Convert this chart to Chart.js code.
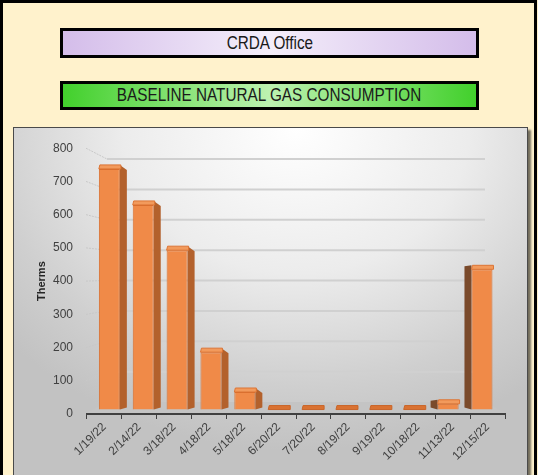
<!DOCTYPE html>
<html>
<head>
<meta charset="utf-8">
<script src="https://cdn.jsdelivr.net/npm/chart.js@4/dist/chart.umd.min.js"></script>
<style>
  html, body { margin: 0; padding: 0; }
  #page { position: relative; width: 538px; height: 475px; background: #FFF2CC; overflow: hidden; }
  #frame { position: absolute; left: 0; top: 0; width: 537px; height: 490px; box-sizing: border-box; border: 3px solid #000; }
  .title { position: absolute; left: 60px; width: 419px; box-sizing: border-box; border: 3px solid #000;
           font-family: "Liberation Sans", Arial, sans-serif; font-size: 18px;
           color: #1a1a1a; text-align: center; }
  .title span { display: inline-block; transform: scaleX(0.85); transform-origin: center; white-space: nowrap; }
  #t1 { top: 28px; height: 30px; line-height: 24px;
        background: linear-gradient(to right, #D4BDEA 0%, #F4EEFA 50%, #D4BDEA 100%); }
  #t2 { top: 81px; height: 29px; line-height: 23px;
        background: linear-gradient(to right, #42D02C 0%, #BDF2B0 50%, #42D02C 100%); }
  #box { position: absolute; left: 13px; top: 127px; width: 515px; height: 360px; box-sizing: border-box;
         border: 1px solid #4a4a4a;
         background: radial-gradient(ellipse 75% 90% at 55% 0%, #ffffff 0%, #ececec 45%, #cfcfcf 80%, #c2c2c2 100%);
         box-shadow: 3px 3px 2px rgba(0,0,0,0.55); }
  #chart { position: absolute; left: -1px; top: -1px; }
</style>
</head>
<body>
<div id="page">
  <div id="frame"></div>
  <div class="title" id="t1"><span>CRDA Office</span></div>
  <div class="title" id="t2"><span>BASELINE NATURAL GAS CONSUMPTION</span></div>
  <div id="box"><canvas id="chart" width="515" height="348"></canvas></div>
</div>
<script>
// Meter read dates and monthly natural gas use (therms)
const readDates = ["1/19/22", "2/14/22", "3/18/22", "4/18/22", "5/18/22", "6/20/22",
                   "7/20/22", "8/19/22", "9/19/22", "10/18/22", "11/13/22", "12/15/22"];
const therms = [755, 642, 500, 180, 55, 0, 0, 0, 0, 0, 18, 440];
const thermTicks = [0, 100, 200, 300, 400, 500, 600, 700, 800];

const FONT = "'Liberation Sans', Arial, sans-serif";
const INK = "#404040";

// Pseudo-3D look: floor, back wall gridlines, and column side/top faces
const DEPTH_X = 20, DEPTH_Y = 12, WALL_SCALE = 0.914;
const columns3d = {
  id: "columns3d",
  beforeDatasetsDraw(chart) {
    const { ctx, chartArea: a } = chart;
    const ys = chart.scales.yLab;
    ctx.save();
    // floor
    ctx.fillStyle = "#c4c4c4";
    ctx.beginPath();
    ctx.moveTo(a.left, a.bottom - 1);
    ctx.lineTo(a.right, a.bottom - 1);
    ctx.lineTo(a.right - DEPTH_X, a.bottom - DEPTH_Y);
    ctx.lineTo(a.left + DEPTH_X, a.bottom - DEPTH_Y);
    ctx.closePath();
    ctx.fill();
    // wall gridlines
    thermTicks.forEach(v => {
      if (v === 0) return;
      const fy = ys.getPixelForValue(v);
      const by = a.bottom - DEPTH_Y + (fy - a.bottom) * WALL_SCALE;
      ctx.strokeStyle = "#c8c8c8";
      ctx.lineWidth = 1;
      ctx.setLineDash([2, 1]);
      ctx.beginPath();
      ctx.moveTo(a.left - 1, fy);
      ctx.lineTo(a.left + DEPTH_X, by);
      ctx.stroke();
      ctx.setLineDash([]);
      ctx.strokeStyle = "#d0d0d0";
      ctx.lineWidth = 2;
      ctx.beginPath();
      ctx.moveTo(a.left + DEPTH_X, by);
      ctx.lineTo(a.right - DEPTH_X, by);
      ctx.stroke();
    });
    ctx.restore();
  },
  afterDatasetsDraw(chart) {
    const { ctx, chartArea: a } = chart;
    const mid = (a.left + a.right) / 2;
    const meta = chart.getDatasetMeta(0);
    ctx.save();
    meta.data.forEach(bar => {
      const { x, y, base, width } = bar.getProps(["x", "y", "base", "width"], true);
      const xl = x - width / 2, xr = x + width / 2;
      const side = 7;
      const tall = base - y > 1;
      // side face
      if (tall) {
        ctx.beginPath();
        if (x < mid) {
          ctx.fillStyle = "#B3612C";
          ctx.moveTo(xr, y - 4);
          ctx.lineTo(xr + side, y + 1);
          ctx.lineTo(xr + side, base - 2);
          ctx.lineTo(xr, base);
        } else {
          ctx.fillStyle = "#7A4A2B";
          ctx.moveTo(xl, y - 4);
          ctx.lineTo(xl - side, y - 3);
          ctx.lineTo(xl - side, base - 2);
          ctx.lineTo(xl, base);
        }
        ctx.closePath();
        ctx.fill();
      }
      // top face
      ctx.beginPath();
      ctx.fillStyle = tall ? "#F29A5C" : "#D97232";
      ctx.moveTo(xl + 1, y - 4);
      ctx.lineTo(xr + 1, y - 4);
      ctx.lineTo(xr + 1, y);
      ctx.lineTo(xl, y);
      ctx.closePath();
      ctx.fill();
      ctx.strokeStyle = tall ? "#DC7434" : "#C9662A";
      ctx.lineWidth = 1;
      ctx.stroke();
    });
    ctx.restore();
  }
};

new Chart(document.getElementById("chart"), {
  type: "bar",
  data: {
    labels: readDates,
    datasets: [{
      data: therms.map((v, i) => ({ x: i, y: v })),
      xAxisID: "xb",
      yAxisID: "y",
      backgroundColor: "#F08A48",
      borderColor: "#D86B2A",
      borderWidth: 1,
      barPercentage: 0.62,
      categoryPercentage: 1
    }]
  },
  options: {
    responsive: false,
    devicePixelRatio: 1,
    animation: false,
    layout: { padding: { left: 0, right: 23, top: 20, bottom: 0 } },
    plugins: { legend: { display: false }, tooltip: { enabled: false } },
    scales: {
      x: {
        type: "category",
        position: "bottom",
        grid: { offset: true, drawOnChartArea: false, tickLength: 5, color: INK, lineWidth: 1 },
        border: { display: true, color: INK, width: 2 },
        ticks: { minRotation: 45, maxRotation: 45, autoSkip: false, color: INK, padding: 1,
                 font: { family: FONT, size: 12 } },
        afterFit(s) { s.height = 61; }
      },
      xb: { type: "linear", display: false, offset: false, bounds: "ticks", min: -0.66, max: 11.68,
            grid: { offset: false } },
      y: { type: "linear", display: false, min: -14, max: 820 },
      yLab: {
        type: "linear",
        position: "left",
        min: 0, max: 800,
        afterBuildTicks(s) { s.ticks = thermTicks.map(v => ({ value: v })); },
        grid: { display: false, drawTicks: false },
        border: { display: false },
        ticks: { color: INK, padding: 14, font: { family: FONT, size: 12 } },
        title: { display: true, text: "Therms", color: "#262626",
                 font: { family: FONT, size: 11, weight: "bold" }, padding: { top: 22, bottom: 0 } },
        afterFit(s) { s.width = 74; }
      }
    }
  },
  plugins: [columns3d]
});
</script>
</body>
</html>
